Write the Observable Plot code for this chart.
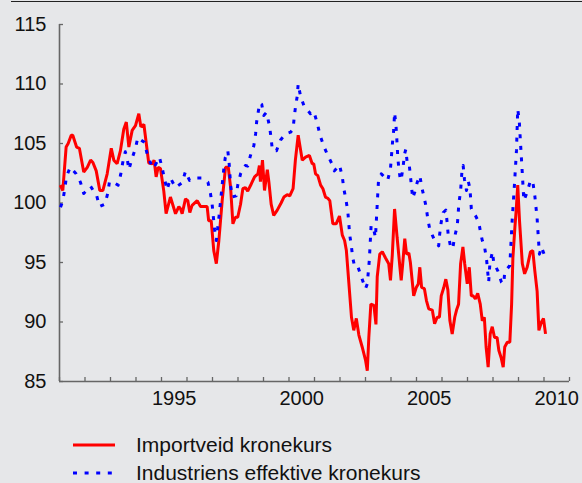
<!DOCTYPE html>
<html>
<head>
<meta charset="utf-8">
<script src="https://cdn.jsdelivr.net/npm/d3@7"></script>
<script src="https://cdn.jsdelivr.net/npm/@observablehq/plot@0.6"></script>
<style>
  html, body { margin: 0; padding: 0; background: #e6e7e9; }
  #wrap { position: relative; width: 582px; height: 483px; overflow: hidden; background: #e6e7e9;
          font-family: "Liberation Sans", Arial, sans-serif; }
  #topline { position: absolute; left: 11px; top: 1px; width: 571px; height: 1px; background: #222; }
  #chart { position: absolute; left: 0; top: 0; }
  .leg { position: absolute; left: 73px; height: 24px; display: flex; align-items: center; }
  .leg span { font-size: 21px; color: #111; margin-left: 21px; white-space: nowrap; line-height: 24px; }
</style>
</head>
<body>
<div id="wrap">
  <div id="topline"></div>
  <div id="chart"></div>
  <div id="legend"></div>
</div>
<script>
// ---- Data (decimal year, index value) ----
const redT = [1991.03,1991.13,1991.26,1991.34,1991.46,1991.52,1991.67,1991.78,1991.95,1992.09,1992.22,1992.31,1992.44,1992.58,1992.70,1992.87,
1993.03,1993.13,1993.26,1993.39,1993.52,1993.62,1993.72,1993.85,1993.98,1994.11,1994.19,1994.31,1994.50,1994.64,1994.71,1994.79,1994.87,1994.96,
1995.09,1995.18,1995.35,1995.55,1995.68,1995.75,1995.81,1995.94,1996.03,1996.11,1996.20,1996.40,1996.53,1996.79,1996.85,1996.95,
1997.05,1997.15,1997.25,1997.38,1997.51,1997.62,1997.71,1997.80,1997.90,1997.99,1998.10,1998.19,1998.29,1998.38,1998.52,1998.65,1998.78,1998.84,1998.88,1998.96,
1999.04,1999.15,1999.21,1999.30,1999.40,1999.54,1999.69,1999.80,1999.93,2000.03,2000.16,2000.25,2000.36,2000.52,2000.65,2000.80,2000.91,2000.97,
2001.04,2001.13,2001.24,2001.33,2001.43,2001.52,2001.60,2001.72,2001.85,2001.98,2002.09,2002.18,2002.25,2002.35,2002.45,2002.54,2002.64,2002.74,2002.87,
2003.00,2003.07,2003.13,2003.21,2003.33,2003.41,2003.46,2003.56,2003.66,2003.78,2003.91,2003.98,2004.05,2004.14,2004.24,2004.35,2004.40,2004.46,2004.54,2004.61,2004.70,2004.76,2004.89,2004.99,
2005.07,2005.13,2005.20,2005.31,2005.39,2005.48,2005.62,2005.71,2005.81,2005.90,2005.97,2006.07,2006.15,2006.23,2006.31,2006.40,2006.50,2006.57,2006.65,2006.73,2006.82,2006.89,2006.99,
2007.07,2007.15,2007.22,2007.31,2007.40,2007.50,2007.58,2007.66,2007.73,2007.81,2007.89,2007.97,2008.06,2008.16,2008.23,2008.32,2008.40,2008.46,2008.56,2008.66,2008.73,2008.78,2008.86,2008.91,2008.97,
2009.04,2009.15,2009.24,2009.34,2009.40,2009.47,2009.56,2009.64,2009.73,2009.80,2009.90,2009.98,2010.06];
const redV = [101.5,101.05,104.7,105.0,105.7,105.7,104.7,104.6,102.6,103.0,103.6,103.4,102.7,101.05,101.05,102.45,
104.6,103.6,103.3,104.4,106.2,106.8,104.7,106.1,106.5,107.5,106.4,106.6,103.35,103.3,103.6,102.2,103.0,102.9,
101.0,99.1,100.5,99.1,99.7,99.5,99.1,100.35,100.2,99.2,99.8,100.2,99.7,99.7,98.5,98.5,
96.0,94.9,96.85,100.2,103.0,103.0,101.3,98.25,98.8,98.8,99.9,101.2,101.3,101.0,101.6,102.2,102.45,103.15,101.8,103.6,
101.05,102.8,101.8,99.9,98.95,99.4,100.0,100.5,100.7,100.6,101.2,103.6,105.7,103.6,103.85,104.0,103.3,103.3,
102.45,102.3,101.5,101.2,100.5,100.4,100.2,98.25,98.25,98.9,97.3,96.85,96.0,93.2,90.4,89.3,90.3,88.9,87.9,
86.8,85.9,88.7,91.5,91.4,89.8,93.8,95.7,95.9,95.4,94.9,93.5,95.6,99.5,97.1,94.6,93.5,94.9,97.0,95.7,95.8,95.0,92.2,92.9,
93.2,94.6,92.9,92.8,91.8,91.1,91.0,89.85,90.4,90.4,92.2,92.9,93.6,92.7,90.1,89.0,90.4,91.0,91.5,94.9,96.3,94.9,93.2,
94.6,92.2,92.2,91.95,92.4,91.5,90.1,90.4,87.9,86.2,89.0,89.6,88.7,88.7,87.6,87.0,86.2,87.9,88.3,88.3,91.5,95.4,98.0,99.4,101.5,
98.5,94.9,94.05,94.6,95.2,95.9,96.0,94.3,92.6,89.3,90.0,90.3,89.0];

const blueT = [1991.04,1991.13,1991.21,1991.27,1991.42,1991.65,1991.82,1991.95,1992.22,1992.46,1992.57,1992.78,1992.89,1992.96,
1993.09,1993.30,1993.40,1993.48,1993.58,1993.65,1993.72,1993.84,1993.98,1994.07,1994.19,1994.33,1994.44,1994.57,1994.74,1994.76,1994.92,
1995.03,1995.13,1995.22,1995.35,1995.55,1995.81,1995.94,1996.10,1996.33,1996.60,1996.82,1996.92,1996.99,1997.08,1997.15,1997.26,1997.35,1997.44,1997.50,1997.60,1997.65,1997.71,1997.77,1997.93,1997.99,
1998.10,1998.29,1998.38,1998.49,1998.62,1998.69,1998.73,1998.79,1998.85,1998.93,1999.01,1999.11,1999.15,1999.24,1999.30,1999.35,1999.51,1999.67,1999.86,
2000.06,2000.16,2000.20,2000.25,2000.32,2000.36,2000.45,2000.58,2000.84,2000.97,2001.11,2001.21,2001.36,2001.50,2001.67,2001.78,2001.98,
2002.09,2002.15,2002.24,2002.31,2002.38,2002.45,2002.50,2002.58,2002.71,2002.87,2003.00,2003.07,2003.15,2003.22,2003.30,2003.39,2003.51,2003.62,2003.87,2003.98,
2004.06,2004.11,2004.14,2004.19,2004.22,2004.27,2004.32,2004.37,2004.41,2004.48,2004.53,2004.58,2004.64,2004.71,2004.76,2004.85,2004.93,
2005.03,2005.13,2005.22,2005.29,2005.38,2005.44,2005.52,2005.68,2005.87,2005.91,2005.97,2006.05,2006.15,2006.20,2006.24,2006.33,2006.42,2006.49,2006.60,2006.66,2006.73,2006.79,2006.83,2006.88,2006.96,
2007.03,2007.09,2007.12,2007.15,2007.31,2007.44,2007.51,2007.58,2007.67,2007.75,2007.83,2007.88,2007.98,2008.03,2008.19,2008.33,2008.42,2008.46,2008.66,2008.75,2008.84,2008.92,2008.97,
2009.03,2009.08,2009.15,2009.21,2009.34,2009.47,2009.56,2009.64,2009.73,2009.82,2009.90,2010.02];
const blueV = [99.65,100.2,101.2,102.2,103.0,102.45,101.75,100.8,101.4,100.6,99.7,99.9,100.8,101.8,
101.75,101.5,102.4,103.4,104.3,103.8,102.8,103.7,104.6,105.5,105.3,105.1,104.1,103.35,103.6,103.2,103.85,
102.9,101.9,101.1,102.1,101.3,101.7,102.65,101.9,102.1,102.1,101.75,100.8,99.8,97.8,96.85,98.95,100.9,102.8,103.8,104.4,103.4,101.5,100.5,100.6,101.5,
102.45,103.15,103.1,104.0,104.8,105.8,106.8,107.6,108.4,108.3,107.35,107.6,107.3,106.4,105.4,104.4,104.4,105.3,105.8,
105.95,106.2,107.1,108.0,108.95,110.0,109.0,108.2,107.5,107.7,106.7,105.75,104.8,104.1,103.35,102.7,103.2,
102.2,101.2,100.2,99.2,97.35,96.3,95.4,94.6,94.6,93.6,92.8,93.2,95.2,98.1,98.0,97.1,101.9,102.45,101.9,102.9,
105.1,106.2,107.6,106.65,105.7,103.7,102.7,101.9,102.1,103.15,104.1,104.5,103.3,103.3,102.3,100.4,100.9,
101.75,102.3,101.2,100.55,99.65,98.7,97.8,97.0,96.4,97.4,98.4,99.2,99.4,98.4,97.4,96.4,96.15,97.1,98.1,99.9,101.05,102.9,103.15,102.0,101.05,
101.8,101.3,100.5,99.5,98.95,98.4,97.55,96.85,96.3,95.2,93.35,95.0,95.9,94.95,94.3,93.35,93.2,94.2,94.75,98.5,101.5,104.4,107.9,
106.9,105.0,102.45,100.2,100.9,101.9,101.8,100.6,98.7,95.7,96.3,95.6];

const yTicks = [85, 90, 95, 100, 105, 110, 115];
const yearTicks = d3.range(1991, 2012);
const labelYears = [1995, 2000, 2005, 2010];
const seriesNames = ["Importveid kronekurs", "Industriens effektive kronekurs"];
const seriesColors = ["#ff0000", "#0000ff"];
const seriesDash = [null, "4,7.6"];

const red = redT.map((t, i) => ({t, v: redV[i]}));
const blue = blueT.map((t, i) => ({t, v: blueV[i]}));

const W = 582, H = 415, mT = 24, mB = 34, mL = 59, mR = 13;
const tickLen = 4;
const axisColor = "#666";

const chart = Plot.plot({
  width: W,
  height: H,
  marginTop: mT,
  marginBottom: mB,
  marginLeft: mL,
  marginRight: mR,
  style: {background: "transparent", fontFamily: "'Liberation Sans', Arial, sans-serif", fontSize: "20px", color: "#111", overflow: "visible"},
  x: {domain: [1991, 2011]},
  y: {domain: [85, 115]},
  marks: [
    // axis labels
    Plot.axisY({ticks: yTicks, tickSize: 0, tickPadding: 13, tickFormat: d => String(d), label: null, fill: "#111"}),
    Plot.axisX({ticks: labelYears.map(y => y + 0.5), tickSize: 0, tickPadding: 9, tickFormat: d => String(Math.floor(d)), label: null, fill: "#111"}),
    // inward ticks
    Plot.tickY(yTicks, {y: d => d, stroke: axisColor, strokeWidth: 1.3, insetRight: (W - mL - mR) - tickLen}),
    Plot.tickX(yearTicks, {x: d => d, stroke: axisColor, strokeWidth: 1.3, insetTop: (H - mT - mB) - tickLen}),
    // axis lines
    Plot.ruleX([1991], {stroke: axisColor, strokeWidth: 1.6}),
    Plot.ruleY([85], {stroke: axisColor, strokeWidth: 1.6}),
    Plot.line(red, {x: "t", y: "v", stroke: seriesColors[0], strokeWidth: 3, strokeLinejoin: "miter", strokeLinecap: "butt"}),
    Plot.line(blue, {x: "t", y: "v", stroke: seriesColors[1], strokeWidth: 3, strokeDasharray: seriesDash[1], strokeLinecap: "butt"})
  ]
});
document.getElementById("chart").appendChild(chart);

// legend below the chart
const legend = document.getElementById("legend");
const legendTops = [433, 461];
seriesNames.forEach((name, i) => {
  const row = document.createElement("div");
  row.className = "leg";
  row.style.top = legendTops[i] + "px";
  const dash = seriesDash[i] ? ` stroke-dasharray="${seriesDash[i]}"` : "";
  row.innerHTML = `<svg width="42" height="24"><line x1="0" x2="42" y1="12" y2="12" stroke="${seriesColors[i]}" stroke-width="3"${dash}/></svg><span>${name}</span>`;
  legend.appendChild(row);
});
</script>
</body>
</html>
